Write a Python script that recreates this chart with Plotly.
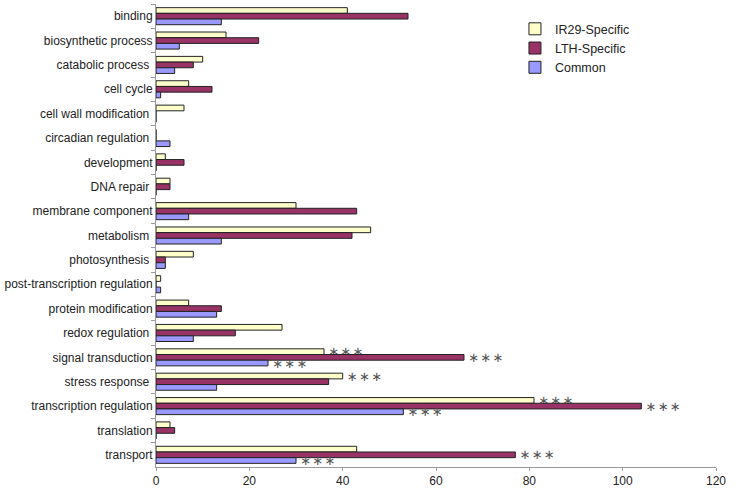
import plotly.graph_objects as go

categories = [
    "binding", "biosynthetic process", "catabolic process ", "cell cycle",
    "cell wall modification ", "circadian regulation ", "development", "DNA repair ",
    "membrane component", "metabolism ", "photosynthesis ", "post-transcription regulation",
    "protein modification", "redox regulation ", "signal transduction", "stress response ",
    "transcription regulation", "translation", "transport",
]
ir29 = [41, 15, 10, 7, 6, 0, 2, 3, 30, 46, 8, 1, 7, 27, 36, 40, 81, 3, 43]
lth = [54, 22, 8, 12, 0, 0, 6, 3, 43, 42, 2, 0, 14, 17, 66, 37, 104, 4, 77]
common = [14, 5, 4, 1, 0, 3, 0, 0, 7, 14, 2, 1, 13, 8, 24, 13, 53, 0, 30]

# significance marks
ir29_sig = ["signal transduction", "stress response ", "transcription regulation"]
lth_sig = ["signal transduction", "transcription regulation", "transport"]
common_sig = ["signal transduction", "transcription regulation", "transport"]

STAR = " \u2217\u200a\u2217\u200a\u2217"

series = [
    ("IR29-Specific", ir29, "#FFFFCC", ir29_sig),
    ("LTH-Specific", lth, "#993366", lth_sig),
    ("Common", common, "#9999FF", common_sig),
]

star_font = dict(family="DejaVu Sans", size=13, color="#555555")

fig = go.Figure()
for name, vals, color, sig in series:
    fig.add_trace(go.Bar(
        y=categories, x=vals, name=name, orientation="h",
        marker=dict(color=color, line=dict(color="#222222", width=1)),
        text=[STAR if c in sig else "" for c in categories],
        textposition="outside", constraintext="none", cliponaxis=False,
        textfont=star_font, outsidetextfont=star_font,
    ))

fig.update_layout(
    width=736, height=491,
    margin=dict(l=156, r=20, t=4, b=24),
    barmode="group", bargap=0.3, bargroupgap=0,
    plot_bgcolor="white", paper_bgcolor="white",
    font=dict(family="Liberation Sans, Arial", size=12, color="#222222"),
    legend=dict(x=0.641, y=0.978, xanchor="left", yanchor="top",
                traceorder="normal", font=dict(size=12.5),
                bgcolor="rgba(0,0,0,0)"),
)
fig.update_xaxes(range=[0, 120], dtick=20, showgrid=False, zeroline=False,
                 showline=True, linecolor="#999999", ticks="outside",
                 ticklen=3, tickcolor="#999999", automargin=False)
fig.update_yaxes(autorange="reversed", showgrid=False, showline=True,
                 linecolor="#999999", ticks="outside", ticklen=4,
                 tickcolor="#999999", tickson="boundaries", automargin=False)

# the page body has a default 8px margin; drop it so the figure sits at 0,0
fig.write_html("out.html", config={"displayModeBar": False},
               post_script="document.body.style.margin='0';")
